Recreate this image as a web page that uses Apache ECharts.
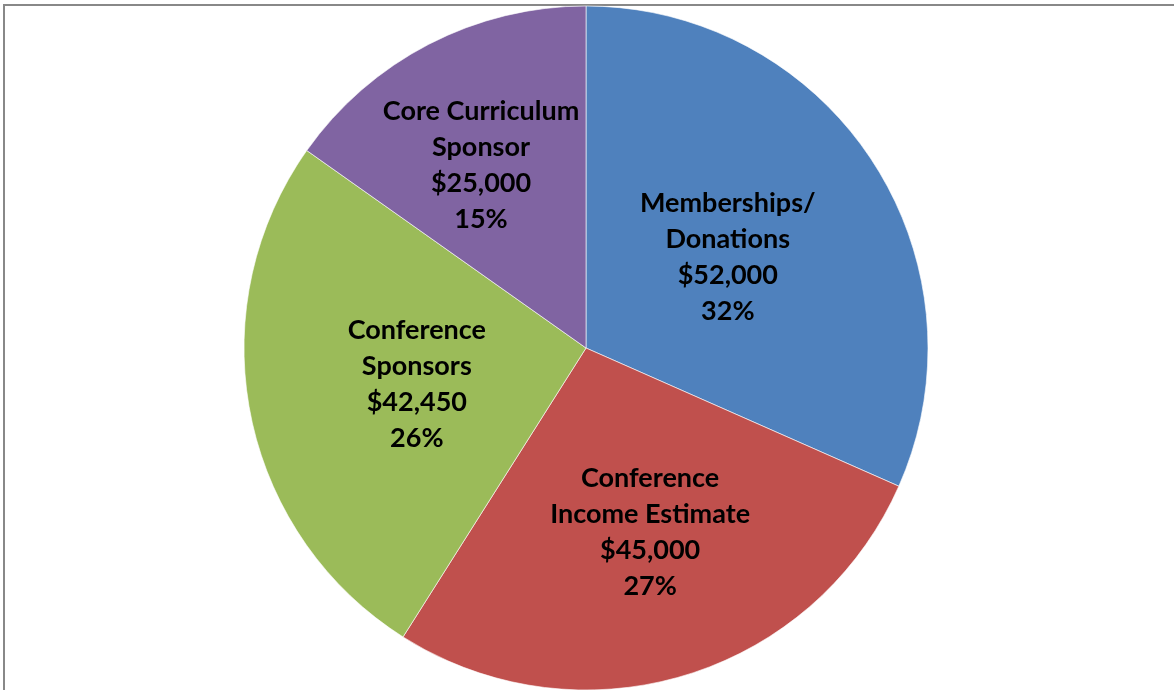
<!DOCTYPE html>
<html>
<head>
<meta charset="utf-8">
<script src="https://cdn.jsdelivr.net/npm/echarts@6/dist/echarts.min.js"></script>
<style>
  html, body { margin: 0; padding: 0; background: #fff; }
  #chart { width: 1174px; height: 690px; }
</style>
</head>
<body>
<div id="chart"></div>
<script>
// slice names (with Excel-style line breaks), values and colours
var names = ['Memberships/\nDonations', 'Conference\nIncome Estimate', 'Conference\nSponsors', 'Core Curriculum\nSponsor'];
var values = [52000, 45000, 42450, 25000];
var colors = ['#4F81BD', '#C0504D', '#9BBB59', '#8064A2'];
// Excel nudges some labels away from the half-radius point:
// side padding moves them sideways, a spacer line moves them up/down
var labelPads = [[0, 8, 0, 0], [0, 0, 0, 27], [0, 0, 0, 3], [0, 50, 0, 0]];
var labelShiftY = [4, 18, 3, -28];

var total = values.reduce(function (a, b) { return a + b; }, 0);

var chart = echarts.init(document.getElementById('chart'), null, {renderer: 'canvas'});

var option = {
    animation: false,
    graphic: [{
        type: 'rect',
        shape: {x: 4, y: 5, width: 1200, height: 720},
        style: {fill: 'none', stroke: '#888', lineWidth: 2},
        silent: true
    }],
    series: [{
        type: 'pie',
        center: [586, 348],
        radius: [0, 342],
        startAngle: 90,
        clockwise: true,
        data: names.map(function (n, i) {
            return {
                name: n,
                value: values[i],
                itemStyle: {color: colors[i]},
                label: {
                    padding: labelPads[i],
                    rich: {gap: {fontSize: 1, lineHeight: Math.abs(labelShiftY[i]) * 2}}
                }
            };
        }),
        itemStyle: {borderColor: 'rgba(255,255,255,0.6)', borderWidth: 1},
        label: {
            position: 'inside',
            color: '#000',
            fontFamily: 'Lato',
            fontWeight: 'bold',
            fontSize: 27,
            lineHeight: 36,
            align: 'center',
            formatter: function (p) {
                var pct = Math.round(p.value / total * 100);
                var txt = p.name + '\n$' + p.value.toLocaleString('en-US') + '\n' + pct + '%';
                var dy = labelShiftY[p.dataIndex];
                if (dy > 0) txt = '{gap| }\n' + txt;
                else if (dy < 0) txt = txt + '\n{gap| }';
                return txt;
            }
        },
        labelLine: {show: false},
        emphasis: {disabled: true}
    }]
};

chart.setOption(option);
</script>
</body>
</html>
